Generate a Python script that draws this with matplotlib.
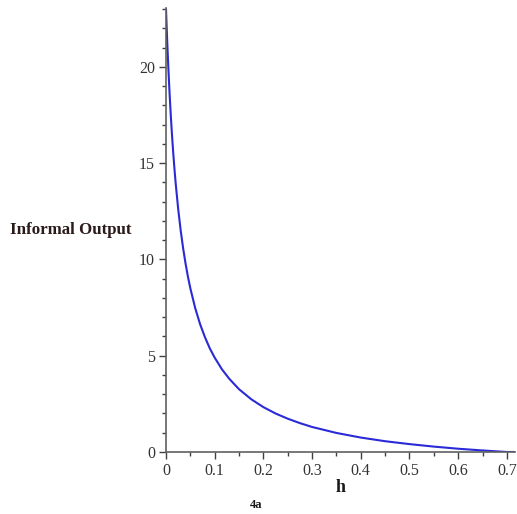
import matplotlib
matplotlib.use("Agg")
import matplotlib.pyplot as plt
from matplotlib.ticker import MultipleLocator

h = [0, 0.0025, 0.005, 0.0075, 0.01, 0.0125, 0.015, 0.0175, 0.02, 0.025, 0.03,
     0.035, 0.04, 0.045, 0.05, 0.06, 0.07, 0.08, 0.09, 0.1, 0.115, 0.13, 0.15,
     0.175, 0.2, 0.225, 0.25, 0.275, 0.3, 0.35, 0.4, 0.45, 0.5, 0.55, 0.6, 0.65,
     0.7, 0.7167]
output = [23.0, 21.31, 19.84, 18.55, 17.41, 16.39, 15.48, 14.66, 13.92, 12.63, 11.54,
          10.61, 9.81, 9.11, 8.5, 7.47, 6.64, 5.96, 5.38, 4.9, 4.29, 3.8, 3.26,
          2.74, 2.33, 2.0, 1.73, 1.5, 1.3, 0.99, 0.75, 0.56, 0.41, 0.28, 0.17, 0.08,
          0.0, 0.0]

xlabel = "h"
ylabel = "Informal Output"
caption = "4a"

plt.rcParams['font.family'] = ['Liberation Serif', 'DejaVu Serif']

fig = plt.figure(figsize=(5.17, 5.14), dpi=100)
ax = fig.add_axes([166/517, 62/514, 349/517, 444/514])
ax.plot(h, output, color='#2a2ad6', lw=1.5, solid_joinstyle='round',
        solid_capstyle='round')

ax.set_xlim(0, 0.7167)
ax.set_ylim(0, 23.06)
for s in ['top', 'right']:
    ax.spines[s].set_visible(False)
for s in ['left', 'bottom']:
    ax.spines[s].set_color('#606060')
    ax.spines[s].set_linewidth(1.2)

ax.xaxis.set_major_locator(MultipleLocator(0.1))
ax.xaxis.set_minor_locator(MultipleLocator(0.05))
ax.yaxis.set_major_locator(MultipleLocator(5))
ax.yaxis.set_minor_locator(MultipleLocator(1))
ax.set_xticks([0, 0.1, 0.2, 0.3, 0.4, 0.5, 0.6, 0.7])
ax.set_xticklabels(['0', '0.1', '0.2', '0.3', '0.4', '0.5', '0.6', '0.7'])
ax.tick_params(which='major', length=5, width=1, color='#404040', labelsize=11.5,
               labelcolor='#333333', pad=3)
ax.tick_params(which='minor', length=3, width=1, color='#404040')

fig.text(10/517, 1 - 230/514, ylabel, fontsize=12.2, fontweight='bold',
         color='#2a1a1a', va='center', ha='left')
fig.text(341/517, 1 - 487/514, xlabel, fontsize=13, fontweight='bold',
         color='#1a1a1a', va='center', ha='center')
fig.text(256/517, 1 - 505/514, caption, fontsize=9, fontweight='bold',
         color='#1a1a1a', va='center', ha='center')

fig.savefig('out.png', dpi=100)
